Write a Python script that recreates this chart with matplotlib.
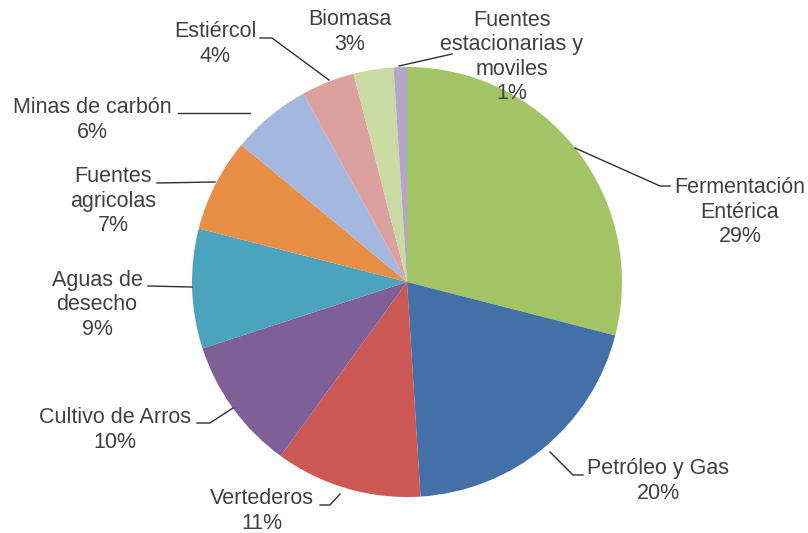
import matplotlib
matplotlib.use("Agg")
import matplotlib.pyplot as plt

# data (percent)
labels = ["Fermentación\nEntérica", "Petróleo y Gas", "Vertederos", "Cultivo de Arros",
          "Aguas de\ndesecho", "Fuentes\nagricolas", "Minas de carbón", "Estiércol",
          "Biomasa", "Fuentes\nestacionarias y\nmoviles"]
values = [29, 20, 11, 10, 9, 7, 6, 4, 3, 1]
colors = ["#a3c464", "#4470a8", "#cc5855", "#7e5f97", "#4ba3bd",
          "#e98e45", "#a3b7df", "#dca09f", "#c9dba2", "#b4a6cb"]

# label text centres and leader lines, in pixels from top-left
text_pos = [(740, 212), (658, 481), (262, 511), (115, 430), (97, 305),
            (113, 201), (92, 120), (215, 44), (350, 32), (512, 57)]
leaders = [[(575, 148), (660, 186), (670, 186)],
           [(550, 452), (573, 475), (583, 475)],
           [(340, 494), (330, 505), (320, 505)],
           [(233, 408), (210, 423), (197, 423)],
           [(192, 287), (148, 286)],
           [(215, 182), (157, 183)],
           [(250, 113), (178, 113)],
           [(329, 80), (272, 38), (260, 38)],
           None,
           [(399, 66), (452, 54)]]

W, H = 808, 533
fig = plt.figure(figsize=(W / 100, H / 100), dpi=100)
ax = fig.add_axes([0, 0, 1, 1])

ax.pie(values, colors=colors, startangle=90, counterclock=False,
       center=(407, H - 282), radius=215, frame=True,
       wedgeprops=dict(linewidth=0))
ax.set_xlim(0, W)
ax.set_ylim(0, H)
ax.set_aspect("equal")
ax.axis("off")

for lab, v, (tx, ty), ld in zip(labels, values, text_pos, leaders):
    ax.text(tx, H - ty, f"{lab}\n{v}%", ha="center", va="center",
            multialignment="center", fontsize=15.5, color="#404040",
            family="Liberation Sans", linespacing=1.22)
    if ld:
        ax.plot([p[0] for p in ld], [H - p[1] for p in ld], color="#303030", lw=1)

fig.savefig("out.png", dpi=100)
